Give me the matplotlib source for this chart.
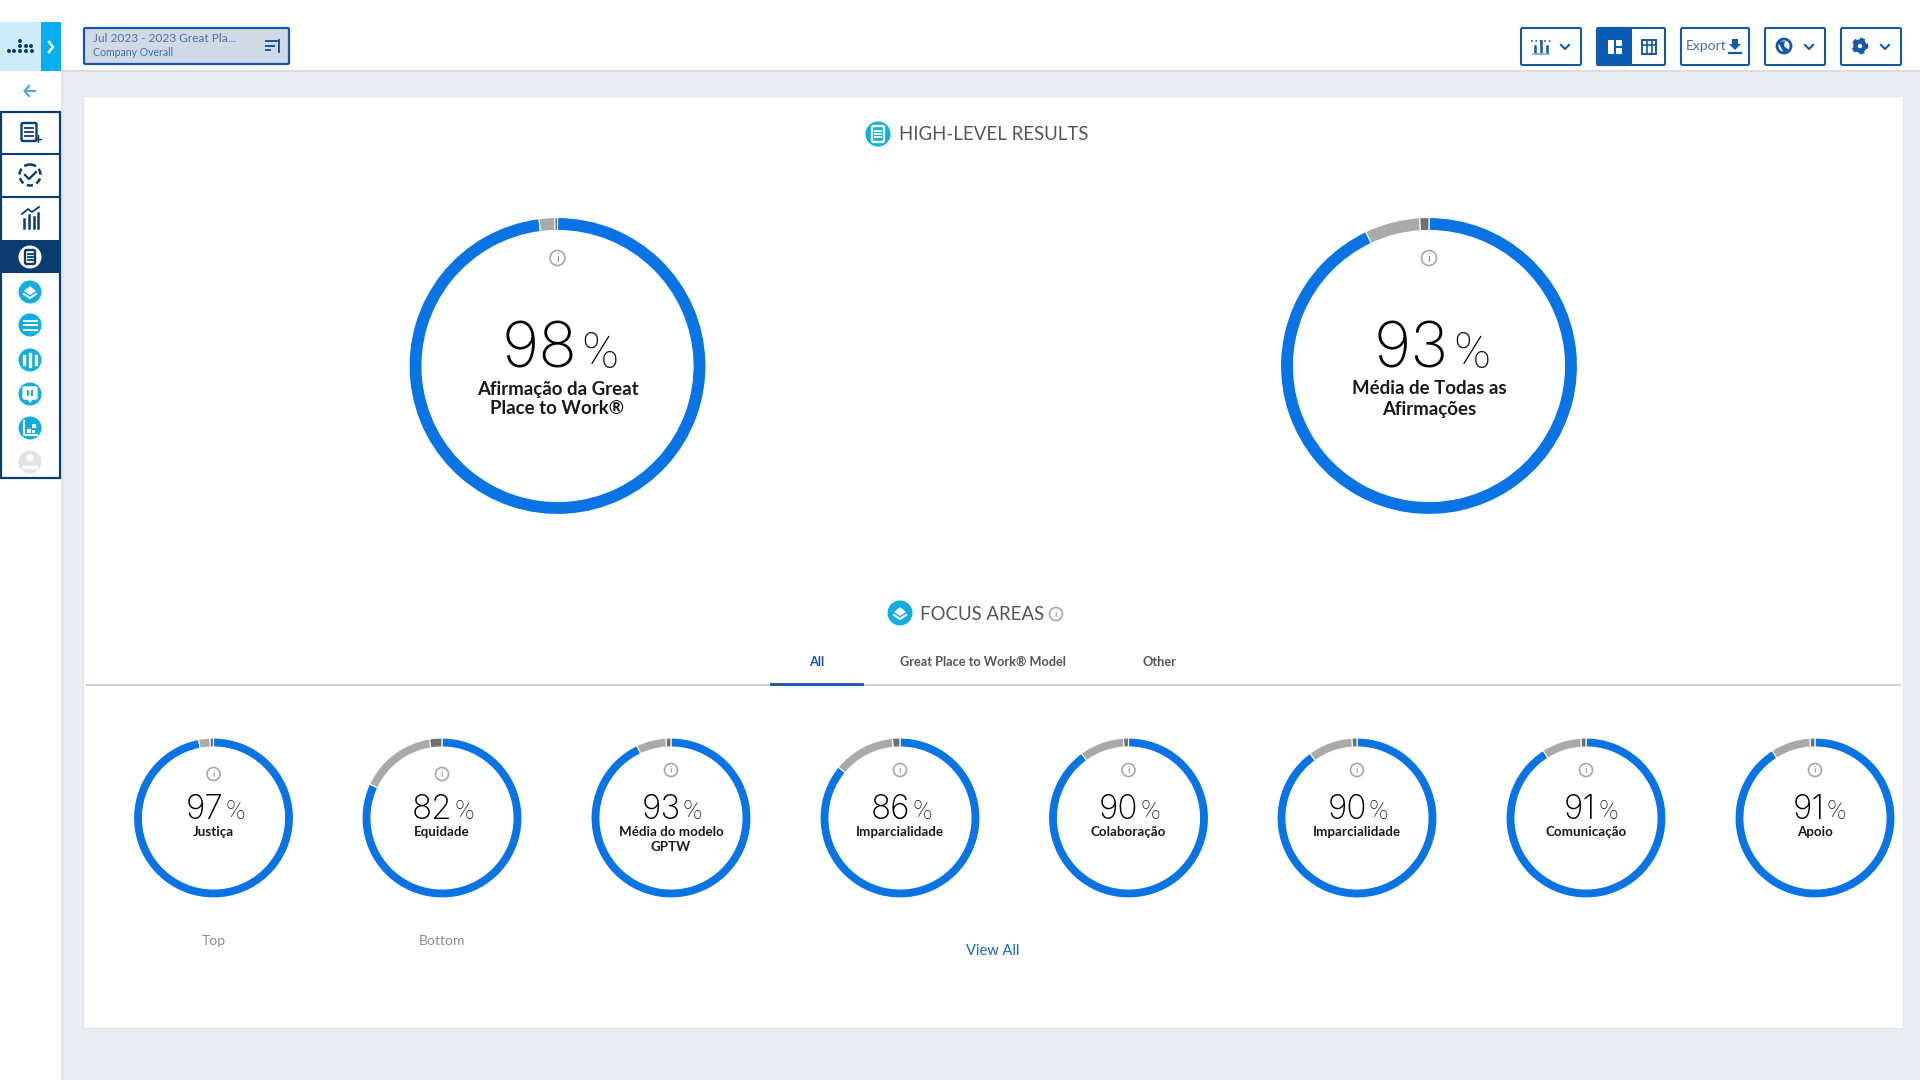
import matplotlib.pyplot as plt
from matplotlib.patches import Rectangle, Circle, FancyBboxPatch, Polygon

plt.rcParams['font.family'] = ['Lato', 'DejaVu Sans']

big_labels = ["Afirmação da Great\nPlace to Work®", "Média de Todas as\nAfirmações"]
big_positive = [98, 93]
big_neutral = [1.7, 6]
big_negative = [0.3, 1]

small_labels = ["Justiça", "Equidade", "Média do modelo\nGPTW", "Imparcialidade", "Colaboração",
                "Imparcialidade", "Comunicação", "Apoio"]
small_positive = [97, 82, 93, 86, 90, 90, 91, 91]
small_neutral = [2.3, 15.5, 6, 12.5, 9, 9, 8, 8]
small_negative = [0.7, 2.5, 1, 1.5, 1, 1, 1, 1]
small_notes = ["Top", "Bottom", "", "", "", "", "", ""]

tab_labels = ["All", "Great Place to Work® Model", "Other"]

class ResultsDashboard:
    def __init__(self):
        self.blue = "#0b74e5"
        self.navy = "#0b3c6f"
        self.cyan = "#12aee2"
        self.button = "#1557a8"
        self.fig, self.ax = plt.subplots(figsize=(19.2, 10.8))
        plt.subplots_adjust(left=0, right=1, bottom=0, top=1)
        self.ax.set_xlim(0, 1920)
        self.ax.set_ylim(1080, 0)  # ใช้พิกัดเป็นพิกเซล
        self.ax.axis("off")
        self.fig.patch.set_facecolor("#e9edf1")

    def box(self, x0, y0, x1, y1, face="white", edge="none", lw=1.5, z=2):
        self.ax.add_patch(FancyBboxPatch((x0, y0), x1 - x0, y1 - y0, boxstyle="round,pad=0,rounding_size=1.5",
                                         facecolor=face, edgecolor=edge, linewidth=lw, zorder=z))

    def chevron(self, x, y, color):
        self.ax.plot([x - 4, x, x + 4], [y - 2, y + 2, y - 2], color=color, lw=1.5, zorder=4)

    def info(self, x, y, r=7.5):
        self.ax.add_patch(Circle((x, y), r, facecolor="white", edgecolor="#a6a6a6", linewidth=1.2, zorder=4))
        self.ax.text(x, y + 0.3, "i", fontsize=r * 1.1, color="#8c8c8c", ha="center", va="center", zorder=5)

    def badge(self, x, y, r, color=None):
        self.ax.add_patch(Circle((x, y), r, facecolor=color or self.cyan, edgecolor="none", zorder=4))

    def layers_icon(self, x, y):
        self.ax.add_patch(Polygon([(x - 6, y - 1), (x, y - 6), (x + 6, y - 1), (x, y + 3)], facecolor="white", zorder=5))
        self.ax.plot([x - 6, x, x + 6], [y + 2, y + 6, y + 2], color="white", lw=1.5, zorder=5)

    def list_icon(self, x, y, color, back="white", w=6, h=8):
        self.box(x - w, y - h, x + w, y + h, face=back, edge=color, lw=1.7, z=5)
        for dy in [-h * 0.4, 0, h * 0.4]:
            self.ax.plot([x - w * 0.5, x + w * 0.5], [y + dy, y + dy], color=color, lw=1.3, zorder=6)

    def draw_topbar(self):
        self.ax.add_patch(Rectangle((0, 0), 1920, 70, facecolor="white", edgecolor="none", zorder=1))
        self.ax.plot([61, 1920], [70.5, 70.5], color="#d9d9d9", lw=1.2, zorder=2)
        self.ax.add_patch(Rectangle((0, 22), 42, 49, facecolor="#cdeafb", edgecolor="none", zorder=2))
        self.ax.add_patch(Rectangle((41, 22), 20, 49, facecolor="#05aef0", edgecolor="none", zorder=2))
        self.ax.plot([49, 53, 49], [42, 47, 52], color="white", lw=1.8, zorder=3)
        # โลโก้จุดเล็ก ๆ
        for dx, dy in [(9, 51), (14, 51), (20, 51), (26, 51), (32, 51), (20, 46), (26, 46), (20, 41), (31, 46)]:
            self.ax.add_patch(Circle((dx, dy), 2, facecolor=self.navy, edgecolor="none", zorder=3))

        # กล่องตัวกรอง
        self.box(84, 28, 289, 64, face="#d0d9e6", edge=self.button, lw=1.6)
        self.ax.text(93, 38.5, "Jul 2023 - 2023 Great Pla...", fontsize=8.6, color="#4f6f9e", va="center", zorder=4)
        self.ax.text(93, 52, "Company Overall", fontsize=7.6, color="#3f70ad", va="center", zorder=4)
        for i, w in enumerate([12, 8, 4]):
            self.ax.plot([266, 266 + w], [41 + i * 4.5, 41 + i * 4.5], color=self.button, lw=1.4, zorder=4)
        self.ax.plot([279, 279], [40, 52], color=self.button, lw=1.4, zorder=4)

        # ปุ่มด้านขวา
        for x0, x1 in [(1521, 1581), (1597, 1665), (1681, 1749), (1765, 1825), (1841, 1901)]:
            self.box(x0, 28, x1, 65, edge=self.button)
        self.box(1597, 28, 1631, 65, face="#0b5cb5", edge=self.button)
        for x, top in [(1535, 46), (1541, 41), (1547, 46)]:
            self.ax.plot([x, x], [top, 52], color=self.button, lw=1.8, zorder=4)
        self.ax.plot([1531, 1551], [41, 41], color=self.button, lw=1.2, ls=":", zorder=4)
        self.ax.plot([1533, 1549], [53.5, 53.5], color="#7fa6d6", lw=1.2, zorder=4)
        self.chevron(1565, 47, self.button)
        self.ax.add_patch(Rectangle((1608, 40), 6, 14, facecolor="white", zorder=4))
        self.ax.add_patch(Rectangle((1616, 40), 6, 6, facecolor="white", zorder=4))
        self.ax.add_patch(Rectangle((1616, 48), 6, 6, facecolor="white", zorder=4))
        self.ax.add_patch(Rectangle((1642, 40), 14, 14, facecolor="white", edgecolor=self.button, lw=1.4, zorder=4))
        for x in [1646.5, 1651.5]:
            self.ax.plot([x, x], [40, 54], color=self.button, lw=1.2, zorder=5)
        self.ax.plot([1642, 1656], [45, 45], color=self.button, lw=1.2, zorder=5)
        self.ax.text(1686, 46.5, "Export", fontsize=10, color="#3f70ad", va="center", zorder=4)
        self.ax.add_patch(Polygon([(1732, 39), (1738, 39), (1738, 44), (1741, 44), (1735, 50), (1729, 44), (1732, 44)],
                                  facecolor=self.button, zorder=4))
        self.ax.plot([1729, 1741], [52.5, 52.5], color=self.button, lw=1.6, zorder=4)
        self.ax.add_patch(Circle((1784, 46), 7, facecolor="white", edgecolor=self.button, lw=2, zorder=4))
        self.ax.add_patch(Polygon([(1778, 42), (1785, 41), (1784, 46), (1789, 50), (1784, 53)], facecolor=self.button, zorder=5))
        self.chevron(1809, 47, self.button)
        self.ax.add_patch(Circle((1860, 46), 4.5, facecolor="white", edgecolor=self.button, lw=3.2, zorder=4))
        self.ax.add_patch(Circle((1860, 46), 6.6, facecolor="none", edgecolor=self.button, lw=2.4, ls=(0, (1.4, 1.1)), zorder=4))
        self.chevron(1885, 47, self.button)

    def draw_sidebar(self):
        self.ax.add_patch(Rectangle((0, 71), 61, 1009, facecolor="white", edgecolor="none", zorder=1))
        self.ax.plot([61.5, 61.5], [71, 1080], color="#dfe3e8", lw=1, zorder=2)
        self.ax.plot([35, 24.5], [91, 91], color="#5aa5dc", lw=1.6, zorder=3)
        self.ax.plot([29, 24.5, 29], [86, 91, 96], color="#5aa5dc", lw=1.6, zorder=3)
        self.ax.add_patch(Rectangle((0.8, 112), 59.5, 366, facecolor="white", edgecolor=self.navy, lw=1.6, zorder=2))
        for y in [154, 197]:
            self.ax.plot([0, 60], [y, y], color=self.navy, lw=1.5, zorder=3)
        self.ax.add_patch(Rectangle((0, 240), 60, 33, facecolor=self.navy, edgecolor="none", zorder=3))

        # ไอคอนสามอันบน
        self.list_icon(29, 132, self.navy, w=7.5, h=9)
        self.ax.text(38, 140, "+", fontsize=11, fontweight="bold", color=self.navy, ha="center", va="center", zorder=7)
        self.ax.add_patch(Circle((30, 175), 10.5, facecolor="white", edgecolor=self.navy, lw=1.8, ls=(0, (2.5, 1.5)), zorder=4))
        self.ax.plot([25, 29, 36], [175, 179, 172], color=self.navy, lw=1.6, zorder=5)
        for x, top in [(23.5, 219), (28.5, 215), (33.5, 217), (38, 213)]:
            self.ax.plot([x, x], [228, top], color=self.navy, lw=1.8, zorder=4)
        self.ax.plot([22, 28, 32, 39], [214, 209, 212, 207], color=self.navy, lw=1.3, zorder=4)

        self.badge(30, 257, 11.5, "white")
        self.list_icon(30, 257, self.navy, w=5, h=7)
        self.badge(30, 292, 11.5)
        self.layers_icon(30, 292)
        self.badge(30, 325, 11.5)
        for dy in [-4.5, 0, 4.5]:
            self.ax.plot([24, 26.5], [325 + dy, 325 + dy], color="white", lw=1.4, zorder=5)
            self.ax.plot([28.5, 37], [325 + dy, 325 + dy], color="white", lw=1.4, zorder=5)
        self.badge(30, 360, 11.5)
        for x, h in [(24, 4), (30, 6), (36, 4)]:
            self.ax.plot([x, x], [360 - h, 360 + h], color="white", lw=2.4, zorder=5)
        self.badge(30, 394, 11.5)
        self.box(23, 387, 37, 399, face="white", edge="white", lw=1, z=5)
        self.ax.add_patch(Polygon([(27, 399), (33, 399), (30, 403)], facecolor="white", zorder=5))
        for x in [28, 32]:
            self.ax.plot([x, x], [391, 395], color=self.cyan, lw=1.4, zorder=6)
        self.badge(30, 428, 11.5)
        self.ax.plot([24, 24, 37], [421, 435, 435], color="white", lw=1.5, zorder=5)
        for x, y, s in [(27, 429, 4), (32, 424, 4), (32, 430, 3)]:
            self.ax.add_patch(Rectangle((x, y), s, s, facecolor="white", zorder=5))
        self.badge(30, 462, 11.5, "#e3e3e3")
        self.badge(30, 458, 3.5, "white")
        self.ax.plot([24, 36], [467, 467], color="white", lw=2.5, zorder=5)

    def draw_ring(self, cx, cy, r, values):
        """วาดวงแหวนจากข้อมูลสามส่วน"""
        rim = r * 1.02
        ring_ax = self.fig.add_axes([(cx - rim) / 1920, 1 - (cy + rim) / 1080, 2 * rim / 1920, 2 * rim / 1080])
        ring_ax.pie(values, colors=[self.blue, "#a9a9a9", "#707070"], startangle=90, counterclock=False, radius=1,
                    wedgeprops=dict(width=self.ring_width / r, edgecolor="white", linewidth=0.8))
        ring_ax.set_xlim(-1.02, 1.02)
        ring_ax.set_ylim(-1.02, 1.02)
        ring_ax.axis("off")

    def draw_value(self, cx, base, split, value, size, pct_size):
        self.ax.text(cx + split, base, str(value), fontsize=size, family="Inter", fontweight="light", color="black",
                     ha="right", va="baseline", zorder=5)
        self.ax.text(cx + split + split * 0.2, base, "%", fontsize=pct_size, family="Roboto", fontweight="light",
                     color="#111111", ha="left", va="baseline", zorder=5)

    def draw_big_rings(self):
        self.ring_width = 13
        for cx, label, a, b, c in zip([557.5, 1429], big_labels, big_positive, big_neutral, big_negative):
            self.draw_ring(cx, 366, 148.5, [a, b, c])
            self.info(cx, 258)
            self.draw_value(cx, 368, 20, a, 46, 36)
            for i, line in enumerate(label.split("\n")):
                self.ax.text(cx, 389 + i * 20, line, fontsize=13.4, fontweight="bold", color="#1a1a1a", ha="center",
                             va="center", zorder=5)

    def draw_small_rings(self):
        self.ring_width = 9
        xs = [213.5, 442, 671, 900, 1128.5, 1357, 1586, 1815]
        for i, cx in enumerate(xs):
            self.draw_ring(cx, 818, 80, [small_positive[i], small_neutral[i], small_negative[i]])
            self.info(cx, 774 if i < 2 else 770, 6.5)
            self.draw_value(cx, 819, 10, small_positive[i], 24, 19)
            for j, line in enumerate(small_labels[i].split("\n")):
                self.ax.text(cx, 832 + j * 15, line, fontsize=9.6, fontweight="bold", color="#1a1a1a", ha="center",
                             va="center", zorder=5)
            if small_notes[i]:
                self.ax.text(cx, 941, small_notes[i], fontsize=10, color="#8c8c8c", ha="center", va="center", zorder=5)

    def draw_card(self):
        self.ax.add_patch(Rectangle((83, 96), 1820, 932, facecolor="white", edgecolor="#e4e7eb", lw=1, zorder=1))
        self.badge(878, 134, 12.5)
        self.list_icon(878, 134, "white", back=self.cyan)
        self.ax.text(899, 134, "HIGH-LEVEL RESULTS", fontsize=13.4, color="#555555", va="center", zorder=5)
        self.badge(900, 613, 12.5)
        self.layers_icon(900, 613)
        self.ax.text(920, 614, "FOCUS AREAS", fontsize=13.4, color="#555555", va="center", zorder=5)
        self.info(1056, 614, 6.5)

        # แท็บ
        for x, label, color in zip([816.5, 983, 1159.5], tab_labels, ["#1557a8", "#555555", "#555555"]):
            self.ax.text(x, 662, label, fontsize=9.2, fontweight="bold", color=color, ha="center", va="center", zorder=5)
        self.ax.plot([87, 1900], [685, 685], color="#d4d4d4", lw=1.5, zorder=3)
        self.ax.plot([771, 862], [684, 684], color="#1557a8", lw=2, zorder=4)
        self.ax.text(993, 951, "View All", fontsize=10.5, color="#1565c0", ha="center", va="center", zorder=5)

    def draw(self):
        self.draw_topbar()
        self.draw_sidebar()
        self.draw_card()
        self.draw_big_rings()
        self.draw_small_rings()
        self.fig.savefig("out.png", dpi=100, facecolor=self.fig.get_facecolor())

# เรียกใช้งาน
dashboard = ResultsDashboard()
dashboard.draw()
